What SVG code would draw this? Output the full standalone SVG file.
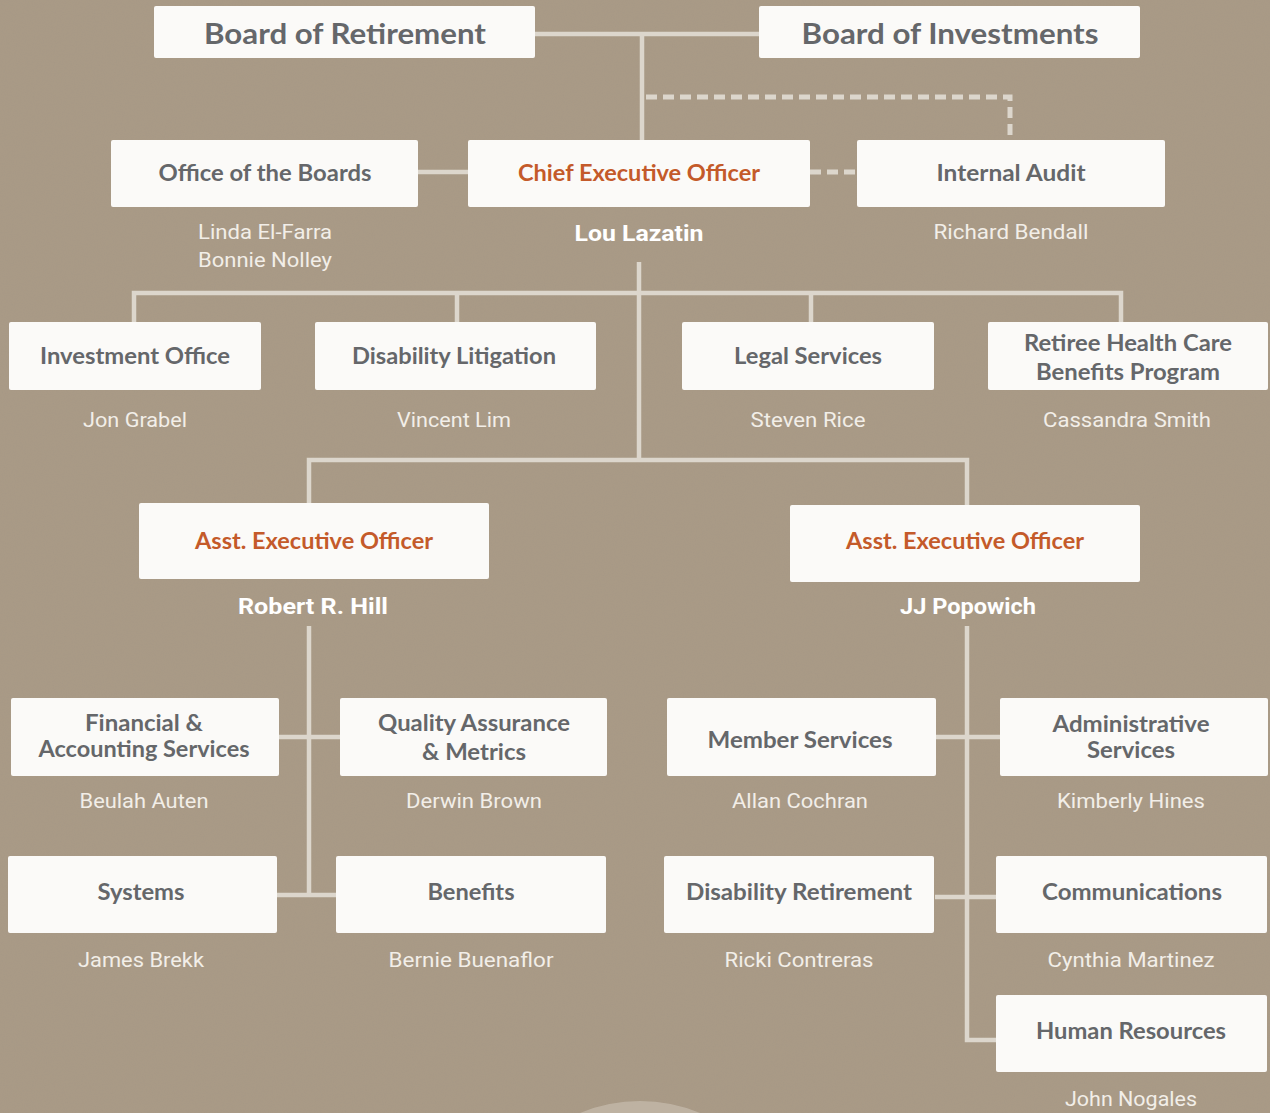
<svg xmlns="http://www.w3.org/2000/svg" width="1270" height="1113" viewBox="0 0 1270 1113">
  <defs>
    <filter id="paper" x="0" y="0" width="100%" height="100%">
      <feTurbulence type="fractalNoise" baseFrequency="0.9" numOctaves="3" seed="7" result="n"/>
      <feColorMatrix type="matrix" values="0 0 0 0 0.35  0 0 0 0 0.30  0 0 0 0 0.24  0 0 0 -1.1 0.62" in="n"/>
    </filter>
    <style>
      .bg { fill: #a99a86; }
      .box { fill: #fbfaf8; }
      .lbl { font-family: Lato, "Liberation Sans", sans-serif; font-weight: 700; font-size: 22px; fill: #65676a; text-anchor: middle; }
      .big { font-size: 28px; }
      .exec { fill: #c45a2a; }
      .name { font-family: Roboto, "Liberation Sans", sans-serif; font-size: 20px; fill: #f2eee8; text-anchor: middle; }
      .boss { font-weight: 700; font-size: 22px; fill: #ffffff; }
      .line { fill: none; stroke: #dcd6cc; stroke-width: 4.5; }
      .dash { fill: none; stroke: #dcd6cc; stroke-width: 5; stroke-dasharray: 11 6; }
    </style>
  </defs>

  <!-- kraft paper background -->
  <rect class="bg" x="0" y="0" width="1270" height="1113"/>
  <rect x="0" y="0" width="1270" height="1113" filter="url(#paper)" opacity="0.5"/>
  <circle cx="640" cy="1258" r="157" fill="#cfc6b9" opacity="0.55"/>

  <!-- connectors -->
  <g id="connectors">
    <path class="line" d="M535 34 H759 M642 34 V140"/>
    <path class="dash" d="M646 97 H1010 V140"/>
    <path class="dash" d="M810 172 H857"/>
    <path class="line" d="M418 172 H468"/>
    <path class="line" d="M639 262 V460"/>
    <path class="line" d="M134 322 V293 H1121 V322 M457 293 V322 M811 293 V322"/>
    <path class="line" d="M309 503 V460 H967 V505"/>
    <path class="line" d="M309 626 V895 M279 737 H340 M277 895 H336"/>
    <path class="line" d="M967 626 V1040 H996 M936 737 H1000 M935 897 H996"/>
  </g>

  <!-- governing boards -->
  <g id="board-retirement">
    <rect class="box" x="154" y="6" width="381" height="52" rx="2"/>
    <text class="lbl big" x="345" y="44" textLength="282" lengthAdjust="spacingAndGlyphs">Board of Retirement</text>
  </g>
  <g id="board-investments">
    <rect class="box" x="759" y="6" width="381" height="52" rx="2"/>
    <text class="lbl big" x="950" y="44" textLength="297" lengthAdjust="spacingAndGlyphs">Board of Investments</text>
  </g>

  <!-- executive level -->
  <g id="office-boards">
    <rect class="box" x="111" y="140" width="307" height="67" rx="2"/>
    <text class="lbl" x="265" y="181" textLength="213" lengthAdjust="spacingAndGlyphs">Office of the Boards</text>
    <text class="name" x="265" y="239" textLength="134" lengthAdjust="spacingAndGlyphs">Linda El-Farra</text>
    <text class="name" x="265" y="267" textLength="134" lengthAdjust="spacingAndGlyphs">Bonnie Nolley</text>
  </g>
  <g id="ceo">
    <rect class="box" x="468" y="140" width="342" height="67" rx="2"/>
    <text class="lbl exec" x="639" y="181" textLength="242" lengthAdjust="spacingAndGlyphs">Chief Executive Officer</text>
    <text class="name boss" x="639" y="241" textLength="129" lengthAdjust="spacingAndGlyphs">Lou Lazatin</text>
  </g>
  <g id="internal-audit">
    <rect class="box" x="857" y="140" width="308" height="67" rx="2"/>
    <text class="lbl" x="1011" y="181" textLength="149" lengthAdjust="spacingAndGlyphs">Internal Audit</text>
    <text class="name" x="1011" y="239" textLength="155" lengthAdjust="spacingAndGlyphs">Richard Bendall</text>
  </g>

  <!-- offices reporting to the CEO -->
  <g id="investment-office">
    <rect class="box" x="9" y="322" width="252" height="68" rx="2"/>
    <text class="lbl" x="135" y="364" textLength="190" lengthAdjust="spacingAndGlyphs">Investment Office</text>
    <text class="name" x="135" y="427" textLength="104" lengthAdjust="spacingAndGlyphs">Jon Grabel</text>
  </g>
  <g id="disability-litigation">
    <rect class="box" x="315" y="322" width="281" height="68" rx="2"/>
    <text class="lbl" x="454" y="364" textLength="204" lengthAdjust="spacingAndGlyphs">Disability Litigation</text>
    <text class="name" x="454" y="427" textLength="114" lengthAdjust="spacingAndGlyphs">Vincent Lim</text>
  </g>
  <g id="legal-services">
    <rect class="box" x="682" y="322" width="252" height="68" rx="2"/>
    <text class="lbl" x="808" y="364" textLength="148" lengthAdjust="spacingAndGlyphs">Legal Services</text>
    <text class="name" x="808" y="427" textLength="115" lengthAdjust="spacingAndGlyphs">Steven Rice</text>
  </g>
  <g id="retiree-health">
    <rect class="box" x="988" y="322" width="280" height="68" rx="2"/>
    <text class="lbl" x="1128" y="351" textLength="208" lengthAdjust="spacingAndGlyphs">Retiree Health Care</text>
    <text class="lbl" x="1128" y="380" textLength="184" lengthAdjust="spacingAndGlyphs">Benefits Program</text>
    <text class="name" x="1127" y="427" textLength="168" lengthAdjust="spacingAndGlyphs">Cassandra Smith</text>
  </g>

  <!-- assistant executive officers -->
  <g id="aeo-hill">
    <rect class="box" x="139" y="503" width="350" height="76" rx="2"/>
    <text class="lbl exec" x="314" y="549" textLength="238" lengthAdjust="spacingAndGlyphs">Asst. Executive Officer</text>
    <text class="name boss" x="313" y="614" textLength="150" lengthAdjust="spacingAndGlyphs">Robert R. Hill</text>
  </g>
  <g id="aeo-popowich">
    <rect class="box" x="790" y="505" width="350" height="77" rx="2"/>
    <text class="lbl exec" x="965" y="549" textLength="238" lengthAdjust="spacingAndGlyphs">Asst. Executive Officer</text>
    <text class="name boss" x="968" y="614" textLength="136" lengthAdjust="spacingAndGlyphs">JJ Popowich</text>
  </g>

  <!-- divisions under Robert R. Hill -->
  <g id="financial-accounting">
    <rect class="box" x="11" y="698" width="268" height="78" rx="2"/>
    <text class="lbl" x="144" y="731" textLength="118" lengthAdjust="spacingAndGlyphs">Financial &amp;</text>
    <text class="lbl" x="144" y="757" textLength="211" lengthAdjust="spacingAndGlyphs">Accounting Services</text>
    <text class="name" x="144" y="808" textLength="129" lengthAdjust="spacingAndGlyphs">Beulah Auten</text>
  </g>
  <g id="quality-assurance">
    <rect class="box" x="340" y="698" width="267" height="78" rx="2"/>
    <text class="lbl" x="474" y="731" textLength="192" lengthAdjust="spacingAndGlyphs">Quality Assurance</text>
    <text class="lbl" x="474" y="760" textLength="104" lengthAdjust="spacingAndGlyphs">&amp; Metrics</text>
    <text class="name" x="474" y="808" textLength="136" lengthAdjust="spacingAndGlyphs">Derwin Brown</text>
  </g>
  <g id="systems">
    <rect class="box" x="8" y="856" width="269" height="77" rx="2"/>
    <text class="lbl" x="141" y="900" textLength="87" lengthAdjust="spacingAndGlyphs">Systems</text>
    <text class="name" x="141" y="967" textLength="126" lengthAdjust="spacingAndGlyphs">James Brekk</text>
  </g>
  <g id="benefits">
    <rect class="box" x="336" y="856" width="270" height="77" rx="2"/>
    <text class="lbl" x="471" y="900" textLength="87" lengthAdjust="spacingAndGlyphs">Benefits</text>
    <text class="name" x="471" y="967" textLength="165" lengthAdjust="spacingAndGlyphs">Bernie Buenaflor</text>
  </g>

  <!-- divisions under JJ Popowich -->
  <g id="member-services">
    <rect class="box" x="667" y="698" width="269" height="78" rx="2"/>
    <text class="lbl" x="800" y="748" textLength="185" lengthAdjust="spacingAndGlyphs">Member Services</text>
    <text class="name" x="800" y="808" textLength="136" lengthAdjust="spacingAndGlyphs">Allan Cochran</text>
  </g>
  <g id="administrative-services">
    <rect class="box" x="1000" y="698" width="268" height="78" rx="2"/>
    <text class="lbl" x="1131" y="732" textLength="157" lengthAdjust="spacingAndGlyphs">Administrative</text>
    <text class="lbl" x="1131" y="758" textLength="88" lengthAdjust="spacingAndGlyphs">Services</text>
    <text class="name" x="1131" y="808" textLength="148" lengthAdjust="spacingAndGlyphs">Kimberly Hines</text>
  </g>
  <g id="disability-retirement">
    <rect class="box" x="664" y="856" width="270" height="77" rx="2"/>
    <text class="lbl" x="799" y="900" textLength="226" lengthAdjust="spacingAndGlyphs">Disability Retirement</text>
    <text class="name" x="799" y="967" textLength="149" lengthAdjust="spacingAndGlyphs">Ricki Contreras</text>
  </g>
  <g id="communications">
    <rect class="box" x="996" y="856" width="271" height="77" rx="2"/>
    <text class="lbl" x="1132" y="900" textLength="180" lengthAdjust="spacingAndGlyphs">Communications</text>
    <text class="name" x="1131" y="967" textLength="167" lengthAdjust="spacingAndGlyphs">Cynthia Martinez</text>
  </g>
  <g id="human-resources">
    <rect class="box" x="996" y="995" width="271" height="77" rx="2"/>
    <text class="lbl" x="1131" y="1039" textLength="190" lengthAdjust="spacingAndGlyphs">Human Resources</text>
    <text class="name" x="1131" y="1106" textLength="132" lengthAdjust="spacingAndGlyphs">John Nogales</text>
  </g>
</svg>
